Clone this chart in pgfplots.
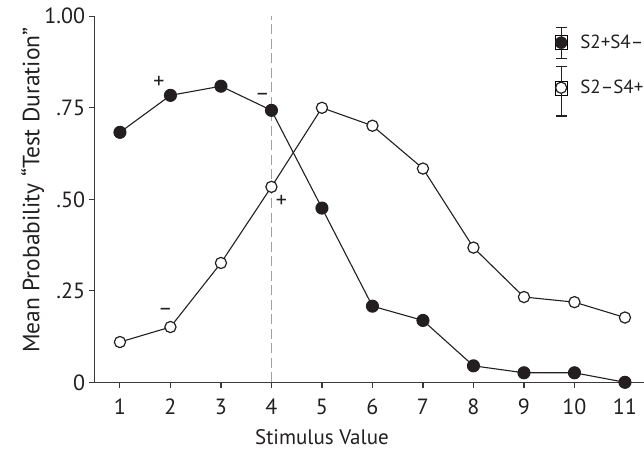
\documentclass[border=0pt]{standalone}
\usepackage{fontspec}
\setmainfont{PT Sans}
\usepackage{pgfplots}
\pgfplotsset{compat=1.18}
\definecolor{axisgray}{HTML}{3A3A3A}
\definecolor{dashgray}{HTML}{A0A0A0}
\definecolor{ink}{HTML}{231F20}

\pgfplotstableread{
x y
1 0.683
2 0.784
3 0.809
4 0.743
5 0.476
6 0.208
7 0.169
8 0.045
9 0.026
10 0.026
11 0.000
}\filled

\pgfplotstableread{
x y
1 0.110
2 0.151
3 0.326
4 0.534
5 0.750
6 0.701
7 0.584
8 0.368
9 0.233
10 0.219
11 0.177
}\open

\begin{document}
\begin{tikzpicture}
\begin{axis}[
  x=50.5pt, y=366pt,
  xmin=0.5, xmax=11.4, ymin=0, ymax=1,
  axis lines=left,
  axis line style={axisgray, line width=1.2pt, -},
  every tick/.style={axisgray, line width=1.1pt},
  tick align=outside,
  major tick length=6pt,
  xtick={1,...,11},
  ytick={0,0.25,0.5,0.75,1},
  yticklabels={0,.25,.50,.75,1.00},
  /pgf/number format/assume math mode=true,
  tick label style={font=\fontsize{22}{26}\selectfont, text=ink},
  xticklabel style={yshift=-7pt},
  xlabel={Stimulus Value},
  ylabel={Mean Probability “Test Duration”},
  xlabel style={font=\fontsize{21}{25}\selectfont, text=ink, at={(axis description cs:0.4128,0)}, anchor=center, yshift=-55pt},
  ylabel style={font=\fontsize{23.5}{28}\selectfont, text=ink, at={(axis description cs:0,0.525)}, anchor=center, yshift=62pt},
  clip=false,
  legend style={draw=none, fill=none, inner sep=0pt,
    at={(axis cs:9.61,0.949)}, anchor=north west,
    font=\fontsize{19}{22}\selectfont, text=ink,
    row sep=30pt, column sep=13pt,
    nodes={inner sep=0pt}},
  legend cell align=left,
]
\addplot[dashgray, line width=1.2pt, dash pattern=on 10pt off 4.5pt, forget plot] coordinates {(4,0) (4,1)};
\addplot[ink, line width=1.1pt, mark=*, mark size=6pt, mark options={fill=ink, draw=ink, solid}, forget plot] table {\filled};
\addplot[ink, line width=1.1pt, mark=*, mark size=5.6pt, mark options={fill=white, draw=ink, line width=1.2pt, solid}, forget plot] table {\open};

\addlegendimage{legend image code/.code={
  \path (0pt,-7pt) rectangle (12pt,7pt);
  \draw[ink, line width=1.1pt, overlay] (6pt,-15.6pt) -- (6pt,15.6pt)
     (0.6pt,-15.6pt) -- (11.4pt,-15.6pt) (0.6pt,15.6pt) -- (11.4pt,15.6pt);
  \fill[ink] (6pt,0pt) circle (6pt);
}}
\addlegendentry{S2+S4–}
\addlegendimage{legend image code/.code={
  \path (0pt,-7pt) rectangle (12pt,7pt);
  \draw[ink, line width=1.1pt, overlay] (6pt,-28.3pt) -- (6pt,21.3pt)
     (0.6pt,-28.3pt) -- (11.4pt,-28.3pt) (0.6pt,21.3pt) -- (11.4pt,21.3pt);
  \draw[ink, fill=white, line width=1.2pt] (6pt,0pt) circle (5.6pt);
}}
\addlegendentry{S2–S4+}

\node[font=\fontsize{22}{26}\selectfont, text=ink] at (axis cs:1.77,0.819) {+};
\node[font=\fontsize{22}{26}\selectfont, text=ink] at (axis cs:3.82,0.780) {–};
\node[font=\fontsize{22}{26}\selectfont, text=ink] at (axis cs:4.20,0.493) {+};
\node[font=\fontsize{22}{26}\selectfont, text=ink] at (axis cs:1.90,0.191) {–};
\end{axis}
\pgfresetboundingbox
\path[use as bounding box] (-94.7pt,-70.7pt) rectangle (549.3pt,382.3pt);
\end{tikzpicture}
\end{document}
